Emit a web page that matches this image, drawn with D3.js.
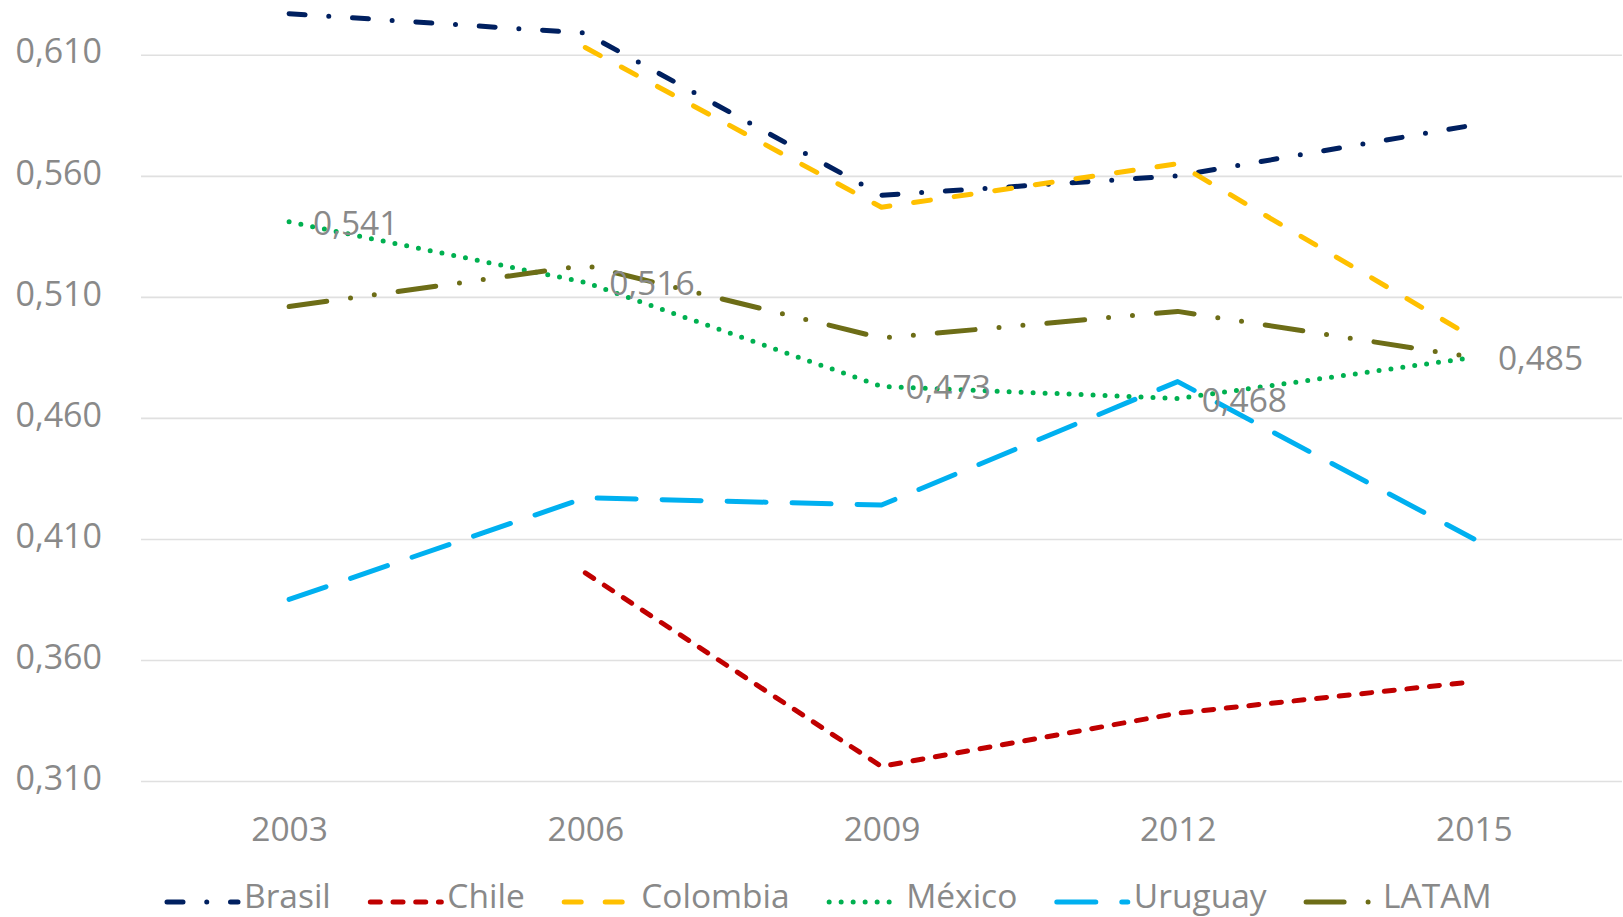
<!DOCTYPE html>
<html>
<head>
<meta charset="utf-8">
<script src="https://cdn.jsdelivr.net/npm/d3@7"></script>
<style>
  body { margin: 0; background: #fff; }
  text { font-family: "Open Sans", "Noto Sans", sans-serif; fill: #898989; }
</style>
</head>
<body>
<script>
var outerWidth = 1623, outerHeight = 917;

var margin = { left: 141, right: 1, bottom: 136 };   // plot area edges

// data (null = no value)
var years = ["2003", "2006", "2009", "2012", "2015"];
var brasil   = [0.627, 0.619, 0.552, 0.560, 0.581];
var chile    = [null, 0.396, 0.316, 0.338, 0.351];
var colombia = [null, 0.613, 0.547, 0.565, 0.493];
var mexico   = [0.541, 0.516, 0.473, 0.468, 0.485];
var uruguay  = [0.385, 0.427, 0.424, 0.475, 0.410];
var latam    = [0.506, 0.523, 0.493, 0.504, 0.485];
var yTicks = [0.31, 0.36, 0.41, 0.46, 0.51, 0.56, 0.61];

var series = [
  { name: "Brasil",   values: brasil,   color: "#002060", dash: "16 23.75 0 23.75" },
  { name: "Chile",    values: chile,    color: "#c00000", dash: "10 12.7" },
  { name: "Colombia", values: colombia, color: "#ffc000", dash: "17 24" },
  { name: "México",   values: mexico,   color: "#00b050", dash: "0 12" },
  { name: "Uruguay",  values: uruguay,  color: "#00b0f0", dash: "39 26" },
  { name: "LATAM",    values: latam,    color: "#6d6d17", dash: "38 24 0 24 0 24" }
];

var fmt = d3.formatLocale({ decimal: ",", thousands: ".", grouping: [3], currency: ["", ""] }).format(".3f");

var x = d3.scalePoint()
  .domain(years)
  .range([margin.left, outerWidth - margin.right])
  .padding(0.5);

var y = d3.scaleLinear()
  .domain([0.31, 0.66])
  .range([781, 781 - 7 * 121.03]);     // axis max runs past the top edge

var svg = d3.select("body").append("svg")
  .attr("width", outerWidth)
  .attr("height", outerHeight);

// y axis with gridlines
var yAxis = d3.axisLeft(y)
  .tickValues(yTicks)
  .tickFormat(fmt)
  .tickSizeInner(-(outerWidth - margin.right - margin.left))
  .tickSizeOuter(0)
  .tickPadding(39);

var gy = svg.append("g")
  .attr("transform", "translate(" + margin.left + ",0)")
  .call(yAxis);
gy.select(".domain").remove();
gy.selectAll(".tick line").attr("stroke", "#e0e0e0").attr("stroke-width", 1.6);
gy.selectAll(".tick text")
  .attr("dy", "0.24em")
  .style("font-size", "34px")
  .style("font-family", "'Open Sans', sans-serif")
  .attr("fill", "#898989");

// x axis, labels only
var xAxis = d3.axisBottom(x).tickSize(0).tickPadding(36);
var gx = svg.append("g")
  .attr("transform", "translate(0,781)")
  .call(xAxis);
gx.select(".domain").remove();
gx.selectAll(".tick text")
  .style("font-size", "33.5px")
  .style("font-family", "'Open Sans', sans-serif")
  .attr("fill", "#898989");

var line = d3.line()
  .defined(function (d) { return d != null; })
  .x(function (d, i) { return x(years[i]); })
  .y(function (d) { return y(d); });

svg.selectAll(".series")
  .data(series)
  .enter().append("path")
  .attr("class", "series")
  .attr("d", function (s) { return line(s.values); })
  .attr("fill", "none")
  .attr("stroke", function (s) { return s.color; })
  .attr("stroke-width", 5)
  .attr("stroke-linecap", "round")
  .attr("stroke-linejoin", "round")
  .attr("stroke-dasharray", function (s) { return s.dash; });

// data labels for México
svg.selectAll(".lbl")
  .data(mexico)
  .enter().append("text")
  .attr("class", "lbl")
  .attr("x", function (d, i) { return x(years[i]) + 24; })
  .attr("y", function (d) { return y(d) + 13; })
  .style("font-size", "33.5px")
  .text(function (d) { return fmt(d); });

// legend
var legend = svg.append("g");
var lx = 167, ly = 902;
series.forEach(function (s) {
  legend.append("line")
    .attr("x1", lx).attr("x2", lx + 71)
    .attr("y1", ly).attr("y2", ly)
    .attr("stroke", s.color)
    .attr("stroke-width", 5)
    .attr("stroke-linecap", "round")
    .attr("stroke-dasharray", s.dash);
  var t = legend.append("text")
    .attr("x", lx + 77)
    .attr("y", 908)
    .style("font-size", "33.5px")
    .text(s.name);
  lx += 77 + t.node().getComputedTextLength() + 39.5;
});
</script>
</body>
</html>
